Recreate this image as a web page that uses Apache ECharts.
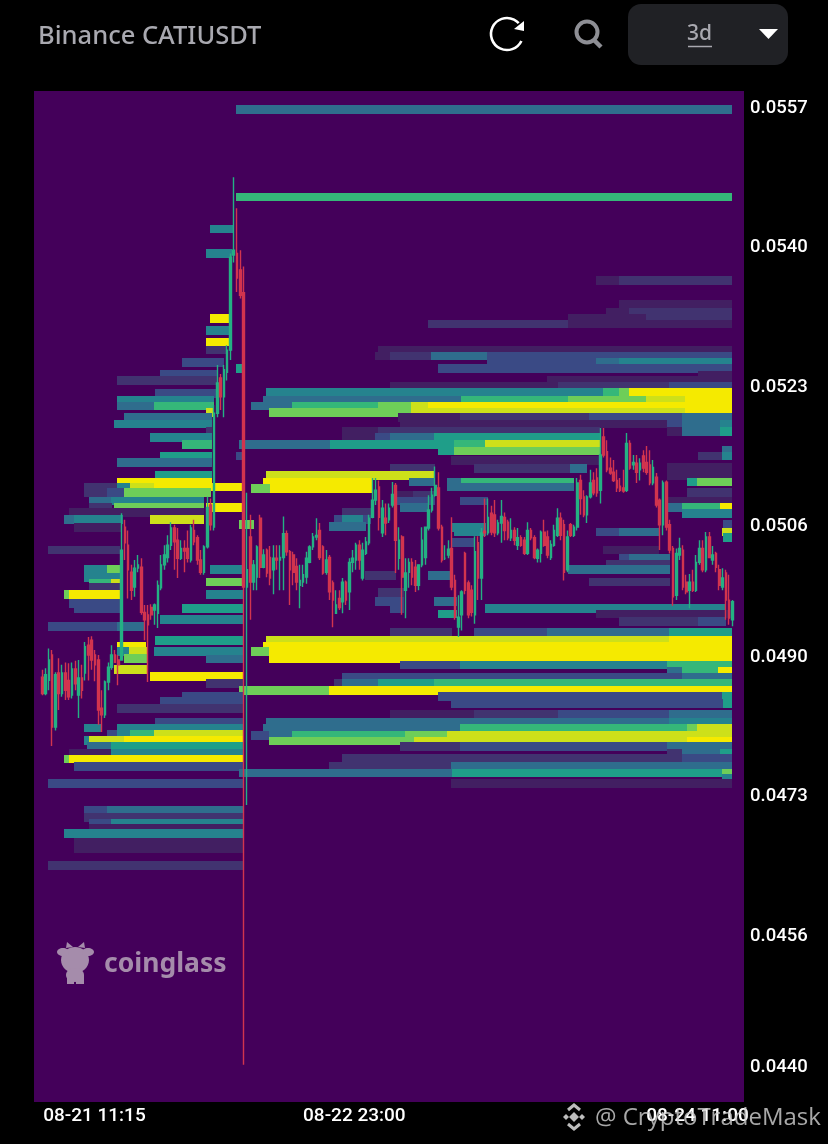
<!DOCTYPE html>
<html>
<head>
<meta charset="utf-8">
<style>html,body{margin:0;padding:0;background:#000}#c{width:828px;height:1144px}</style>
<script src="https://cdn.jsdelivr.net/npm/echarts@6/dist/echarts.min.js"></script>
</head>
<body>
<div id="c"></div>
<script>
// Prices below are USDT x 1e5.
const yTicks = [0.0557,0.0540,0.0523,0.0506,0.0490,0.0473,0.0456,0.0440];
const xTickValues = [15.8,94.5,198.4];
const xTickLabels = ['08-21 11:15','08-22 23:00','08-24 11:00'];
const heatColors = ['#421f62','#413370','#3a4a85','#2f6d8d','#25838e','#1f9e89','#35b779','#6ece58','#cde01a','#f5ea00'];

// each row: open, close, high, low
const ohlc = [
[4876,4856,4885,4854],[4856,4879,4887,4854],[4872,4897,4911,4860],[4903,4815,4909,4792],[4815,4879,4882,4811],
[4881,4856,4899,4836],[4856,4881,4891,4852],[4881,4860,4894,4848],[4872,4852,4893,4848],[4854,4886,4894,4850],
[4886,4868,4896,4860],[4854,4875,4897,4826],[4875,4860,4891,4850],[4881,4913,4919,4872],[4915,4903,4925,4872],
[4921,4897,4926,4885],[4903,4891,4909,4871],[4897,4836,4903,4818],[4838,4830,4860,4809],[4830,4870,4872,4826],
[4870,4888,4894,4860],[4888,4903,4915,4885],[4903,4894,4909,4894],[4897,4891,4903,4866],[4897,5031,5076,4897],
[5059,5040,5068,5019],[5037,5007,5055,4972],[5004,4982,5013,4970],[4986,5009,5019,4974],[5009,5013,5025,5004],
[5010,4955,5021,4952],[4955,4946,4964,4921],[4952,4940,4964,4870],[4961,4952,4965,4946],[4958,4964,4966,4940],
[4954,4988,4994,4936],[4985,5013,5025,4982],[5013,5025,5037,5007],[5022,5037,5049,5016],[5037,5058,5065,5031],
[5058,5041,5062,5007],[5043,5021,5058,4997],[5021,5033,5043,5019],[5033,5030,5043,5004],[5033,5021,5055,5016],
[5019,5058,5062,5016],[5055,5041,5068,5037],[5046,5019,5049,5013],[5019,5004,5031,5001],[5004,5035,5037,5001],
[5035,5083,5096,5033],[5086,5062,5094,5055],[5059,5198,5208,5055],[5198,5235,5257,5193],[5241,5218,5246,5202],
[5218,5251,5257,5193],[5248,5275,5281,5238],[5275,5388,5393,5263],[5391,5397,5486,5382],[5393,5363,5448,5346],
[5373,5342,5397,5338],[5345,4986,5377,4403],[4986,5007,5101,4720],[5047,4992,5074,4946],[4992,5013,5019,4982],
[4998,5035,5037,4982],[5070,5010,5074,4997],[5010,5025,5032,5009],[5031,5003,5033,4998],[5022,4997,5036,4988],
[5007,5021,5037,4977],[5021,5019,5037,5007],[5019,5022,5037,4982],[5022,5051,5072,4982],[5051,5029,5055,5024],
[5029,5007,5031,4964],[5025,5004,5029,4988],[5011,4992,5021,4982],[4988,4994,5013,4960],[4992,5001,5013,4986],
[4998,5021,5029,4990],[5016,5035,5037,5015],[5035,5047,5052,5031],[5047,5049,5070,5043],[5055,5022,5064,5019],
[5035,5003,5037,5001],[5004,5019,5031,5001],[5022,4980,5025,4970],[4991,4970,4994,4937],[4954,4964,4982,4953],
[4972,4961,4982,4958],[4968,4992,4997,4954],[4992,4970,4994,4964],[4980,5016,5021,4958],[5016,5021,5031,5004],
[5019,5037,5040,5007],[5037,5019,5043,5007],[4997,5031,5040,4994],[5027,5041,5047,5025],[5040,5070,5074,5037],
[5071,5092,5119,5070],[5092,5104,5119,5086],[5108,5071,5116,5055],[5052,5082,5092,5047],[5070,5064,5088,5049],
[5068,5082,5088,5064],[5086,5099,5114,5083],[5110,5043,5113,5003],[5021,5043,5059,5007],[5047,4998,5049,4952],
[4982,5003,5021,4948],[5004,5016,5021,4985],[5016,4998,5021,4988],[5010,4988,5019,4980],[4988,5013,5013,4982],
[5013,5043,5059,5010],[5022,5059,5059,5013],[5058,5080,5098,5055],[5080,5098,5107,5077],[5098,5110,5133,5096],
[5107,5058,5126,5055],[5059,5019,5062,5016],[5021,5021,5037,5019],[5025,5032,5043,5021],[5033,4986,5071,4982],
[4994,4949,5001,4946],[4937,4949,4976,4925],[4952,4980,4982,4933],[5027,4982,5029,4977],[4991,4952,4994,4948],
[4982,4955,4988,4950],[4952,5029,5048,4941],[5040,4997,5048,4970],[4997,5052,5058,4970],[5054,5052,5094,5047],
[5052,5071,5094,5049],[5076,5053,5085,5049],[5074,5052,5092,5047],[5052,5064,5068,5049],[5064,5072,5092,5040],
[5071,5055,5077,5043],[5065,5046,5068,5043],[5046,5055,5070,5042],[5055,5043,5059,5037],[5037,5046,5058,5031],
[5046,5037,5049,5035],[5043,5027,5047,5025],[5027,5055,5065,5025],[5055,5046,5058,5043],[5046,5022,5049,5020],
[5021,5031,5033,5016],[5027,5053,5055,5016],[5053,5037,5068,5035],[5047,5025,5055,5021],[5022,5038,5043,5019],
[5037,5055,5062,5035],[5049,5070,5082,5047],[5070,5049,5077,5043],[5062,5004,5068,4994],[5007,5047,5055,5004],
[5062,5049,5064,5047],[5049,5059,5062,5047],[5059,5113,5119,5055],[5116,5094,5123,5074],[5096,5074,5104,5071],
[5074,5096,5098,5064],[5096,5113,5129,5094],[5116,5101,5126,5098],[5119,5101,5131,5096],[5104,5147,5180,5088],
[5169,5147,5180,5144],[5151,5129,5165,5126],[5131,5125,5144,5123],[5126,5116,5141,5114],[5116,5107,5129,5102],
[5109,5104,5119,5102],[5107,5103,5129,5101],[5104,5161,5174,5102],[5161,5131,5165,5129],[5135,5138,5147,5129],
[5137,5126,5147,5113],[5129,5137,5143,5116],[5146,5131,5153,5126],[5138,5126,5158,5123],[5135,5113,5153,5110],
[5113,5132,5141,5110],[5120,5086,5125,5083],[5092,5062,5094,5031],[5062,5113,5116,5049],[5114,5059,5116,5055],
[5062,5031,5068,5027],[5033,4974,5036,4963],[4976,5027,5033,4970],[5025,5033,5046,5019],[5031,4986,5037,4982],
[4992,4980,5001,4977],[4982,4992,5002,4960],[4992,4982,5007,4980],[4982,5016,5025,4980],[5016,5033,5043,5013],
[5033,5007,5043,5004],[5007,5047,5053,5004],[5047,5022,5053,5021],[5019,5025,5036,5013],[5027,5010,5029,5004],
[5007,4988,5013,4982],[4986,4997,5009,4982],[5003,4970,5007,4946],[4970,4948,5001,4940],[4946,4968,4970,4938]
];

// each row: from candle, to candle, price, liquidity level (1-10)
const liquidity = [
[59,209,5569,4],[59,209,5462,7],[51,58,5423,5],[50,57.5,5393,5],[168,175,5360,1],[175,209,5360,2],
[175,209,5331,1],[171,178,5321,1],[178,209,5321,2],[51,57,5314,10],[159.4,183,5314,1],[183,209,5314,2],
[117,159.4,5307,2],[159.4,209,5307,1],[50,57,5299,5],[50,57,5285,10],[50,56,5275,2],[102,209,5275,1],
[101,105.5,5268,1],[105.5,118,5268,2],[118,135,5268,4],[135,209,5268,3],[42.5,55,5260,3],[135,168,5260,3],
[168,175,5260,4],[175,209,5260,5],[59,61,5253,6],[120,209,5253,3],[36,53,5246,3],[198.8,209,5244,1],
[23,53,5238,2],[153,209,5238,1],[105.5,156.4,5231,1],[156.4,190,5231,2],[190,209,5231,3],[34.5,53,5222,3],
[68,170,5223,5],[170,175,5223,7],[175,178,5223,8],[178,209,5223,10],[23,52,5214,5],[67,127,5214,4],
[127,159.4,5214,7],[159.4,183,5214,8],[183,195,5214,9],[195,209,5214,10],[23,34,5207,4],[34,52,5207,7],
[63.6,76,5207,4],[76,102,5207,7],[102,112,5207,8],[112,117,5207,9],[117,209,5207,10],[50,52,5199,9],
[69,112,5199,8],[112,195,5199,9],[195,209,5199,10],[25,51.5,5193,4],[108,126.7,5193,1],[126.7,166,5193,2],
[166,194,5193,3],[194,209,5193,4],[22,51.5,5185,5],[108.5,189.4,5185,1],[189.4,194,5185,3],[194,205.5,5185,4],
[205.5,209,5185,5],[50,51.5,5176,2],[91,102,5176,1],[102,169,5176,2],[189.4,194,5176,1],[194,205.5,5176,4],
[205.5,209,5176,6],[33,51.5,5168,5],[91,101,5168,1],[101,105.5,5168,3],[105.5,119,5168,4],[119,169,5168,6],
[42.5,51.5,5160,7],[60,87.5,5160,4],[87.5,125,5160,6],[125,134.5,5160,7],[134.5,169,5160,9],[120,125,5152,6],
[125,169,5152,8],[206,209,5153,4],[36,51.5,5146,6],[59,61,5146,3],[198.8,206,5146,2],[206,209,5146,5],
[124,169,5140,1],[23,51.5,5138,4],[189.4,209,5132,1],[105.5,119,5131,2],[131,160,5131,2],[160,165,5131,4],
[68,119,5122,9],[189.4,209,5122,1],[34.5,51.5,5122,6],[23,51.5,5114,10],[67,100,5114,10],[111.5,119,5114,4],
[123,127,5114,4],[127,161,5114,7],[195.5,198.5,5114,6],[198.5,209,5114,8],[13,23,5108,2],[23,27,5108,5],
[27,34,5108,9],[34,61,5108,10],[123,161,5108,4],[69,100,5106,10],[63.6,69,5106,8],[13,20,5101,2],[20,25,5101,3],
[25,51,5101,8],[195.5,209,5101,2],[107.5,112.5,5098,1],[112.5,119,5098,2],[14.5,21,5091,4],[21,49,5091,5],
[107.5,119,5091,3],[126.7,135,5091,3],[189.4,209,5091,1],[14.5,21,5083,2],[22,49,5083,8],[50,61,5083,10],
[108.5,117,5083,4],[189.4,194,5083,4],[194,205.5,5083,7],[205.5,209,5083,10],[8.5,49,5077,1],[91,99.5,5077,2],
[194,209,5076,5],[7,10,5068,4],[10,24.5,5068,5],[33,49,5068,9],[88.5,91,5068,3],[91,97.5,5068,5],[97.5,99.5,5068,3],
[206.4,209,5062,3],[60,64,5062,8],[87,98,5060,4],[10,24,5059,1],[124.5,134.5,5059,5],[125,134.5,5053,5],
[168,175,5053,3],[175,186.7,5053,4],[206,209,5053,9],[206.4,209,5046,6],[124.5,131,5040,3],[2,23.5,5031,2],
[170,186.7,5031,1],[175,178,5021,3],[178,190,5021,4],[171,190,5014,2],[13,20,5007,5],[20,24,5007,8],[51,61,5007,5],
[159.4,190,5007,4],[98,107,5000,2],[117,124,5000,4],[13,23.5,4998,5],[50,61,4992,8],[166,190,4992,2],
[14.5,21,4991,7],[21,23.5,4991,9],[14.5,23.5,4985,2],[102,109.5,4979,2],[7,8.5,4977,8],[8.5,23.5,4977,10],
[50,61,4977,5],[101,109.5,4968,3],[119,125.5,4968,4],[8.5,23.5,4966,3],[10,23.5,4960,3],[42.5,61,4960,6],
[105.5,109.5,4960,3],[134.5,207,4960,5],[120,125.5,4953,6],[168,209,4953,1],[36,61,4946,5],[175,198.8,4944,2],
[198.8,207,4944,3],[2,23,4938,3],[23,31,4938,4],[105.5,124,4931,2],[131,153,4931,3],[153,190,4931,4],[190,209,4931,6],
[34.5,61,4921,6],[68,190,4921,9],[190,209,4921,10],[23,31.5,4913,10],[67,209,4913,10],[23,26.7,4907,5],
[26.7,32,4907,9],[34,61,4907,5],[63.6,69,4907,8],[69,209,4907,10],[69,209,4899,10],[25,32,4899,8],[50,61,4898,4],
[108.5,126.7,4891,3],[126.7,189.4,4891,5],[189.4,209,4891,7],[22,32,4885,9],[189.4,194,4883,4],[194,205,4883,7],
[205,209,4883,10],[33,61,4877,10],[91,194,4876,3],[194,209,4876,4],[88.5,91,4869,2],[91,102,4869,4],[102,119,4869,6],
[119,209,4869,7],[50,61,4868,2],[60,87,4860,8],[87,209,4860,10],[42.5,61,4853,3],[120,206,4852,3],[206,209,4852,6],
[36,61,4846,3],[124,206.4,4844,3],[206.4,209,4844,6],[23,61,4838,2],[105.5,131,4831,1],[131,156.4,4831,2],
[156.4,190,4831,3],[190,209,4831,4],[34.5,61,4821,3],[68,190,4821,4],[190,209,4821,5],[13,18,4814,5],[23,61,4814,5],
[67,126.7,4813,4],[126.7,195.5,4813,7],[195.5,198.5,4813,8],[198.5,209,4813,9],[20,23,4806,3],[23,27,4806,5],
[27,34,4806,7],[34,61,4806,9],[63.6,69,4805,3],[69,76,4805,4],[76,110,4805,7],[110,123,4805,8],[123,209,4805,9],
[13,14.5,4799,5],[14.5,25,4799,9],[25,61,4799,10],[69,113,4798,8],[113,195.5,4798,9],[195.5,209,4798,10],
[14,21,4791,4],[21,61,4791,6],[108.5,126.7,4791,2],[126.7,189.4,4791,3],[189.4,209,4791,4],[8.5,21,4783,1],
[21,61,4783,5],[189.4,194,4783,2],[194,205.5,4783,4],[205.5,209,4783,6],[91,194,4777,2],[194,209,4777,3],
[7,8.5,4776,8],[8.5,61,4776,10],[10,61,4767,3],[87,124,4767,2],[124,209,4767,4],[60,124.5,4759,4],[124.5,206,4759,6],
[206,209,4759,8],[206,209,4752,5],[2,61,4746,3],[124,209,4746,1],[13,20,4714,3],[20,61,4714,4],[13,61,4705,2],
[14.5,21,4698,3],[21,61,4698,5],[14.5,61,4692,1],[7,61,4685,5],[10,61,4675,1],[10,61,4667,1],[2,61,4646,2]
];

const PAD_START = 2, PAD_END = 3, ROW = 0.000106;
const toPrice = v => v / 1e5;
const blank = ['-','-','-','-'];
const categories = Array.from({length: ohlc.length + PAD_START + PAD_END}, (_, i) => String(i));
const candleData = [blank, blank].concat(ohlc.map(r => [toPrice(r[0]), toPrice(r[1]), toPrice(r[3]), toPrice(r[2])]), [blank, blank, blank]);
const bandData = liquidity.map(r => [r[0], r[1], toPrice(r[2]), r[3]]);

const chart = echarts.init(document.getElementById('c'), null, {renderer: 'canvas'});
const LABEL_FONT = 'Roboto';
const BULL = '#a58cab';
chart.setOption({
  backgroundColor: '#000000',
  animation: false,
  grid: {left: 34, right: 84, top: 91, bottom: 42, show: true, backgroundColor: '#44005a', borderWidth: 0},
  xAxis: [
    {type: 'category', data: categories, show: false},
    {type: 'value', min: -2.5, max: 212.5, position: 'bottom',
      axisLine: {show: false}, axisTick: {show: false}, splitLine: {show: false},
      axisLabel: {color: '#fff', fontFamily: LABEL_FONT, fontSize: 19, fontWeight: 500, margin: 5, hideOverlap: false,
        showMinLabel: true, showMaxLabel: true,
        customValues: xTickValues,
        formatter: v => xTickLabels[xTickValues.indexOf(v)] || ''}}
  ],
  yAxis: {type: 'value', position: 'right', min: 0.043576, max: 0.055912, scale: true,
    axisLine: {show: false}, axisTick: {show: false}, splitLine: {show: false},
    axisLabel: {color: '#fff', fontFamily: LABEL_FONT, fontSize: 18.5, fontWeight: 500, margin: 6, padding: [6, 0, 0, 0],
      customValues: yTicks, formatter: v => v.toFixed(4)}},
  series: [
    {type: 'custom', xAxisIndex: 1, yAxisIndex: 0, z: 1, clip: true, silent: true,
      encode: {x: [0, 1], y: 2},
      data: bandData,
      renderItem: (params, api) => {
        const p0 = api.coord([api.value(0), api.value(2) + ROW / 2]);
        const p1 = api.coord([api.value(1), api.value(2) - ROW / 2]);
        return {type: 'rect',
          shape: {x: Math.round(p0[0]) - 1, y: Math.round(p0[1]), width: Math.round(p1[0]) - Math.round(p0[0]) + 1, height: Math.round(p1[1]) - Math.round(p0[1])},
          style: {fill: heatColors[api.value(3) - 1]}};
      }},
    {type: 'candlestick', xAxisIndex: 0, yAxisIndex: 0, z: 3, silent: true, barWidth: 2.1,
      data: candleData,
      itemStyle: {color: '#24b183', color0: '#d2344e', borderColor: '#24b183', borderColor0: '#d2344e', borderWidth: 1.4}}
  ],
  graphic: [
    {type: 'text', left: 38, top: 24, style: {text: 'Binance CATIUSDT', fill: '#a9a9b0', font: '500 25.5px "Noto Sans"'}},
    {type: 'arc', shape: {cx: 507, cy: 34, r: 16, startAngle: 0.45, endAngle: -0.75, clockwise: true}, style: {stroke: '#fff', fill: null, lineWidth: 2.6}},
    {type: 'polygon', shape: {points: [[524,21],[524,31],[514,29]]}, style: {fill: '#fff'}},
    {type: 'circle', shape: {cx: 587, cy: 32, r: 10.5}, style: {stroke: '#8e8f95', fill: null, lineWidth: 4}},
    {type: 'line', shape: {x1: 594, y1: 40, x2: 601, y2: 47}, style: {stroke: '#8e8f95', lineWidth: 4.5}},
    {type: 'rect', shape: {x: 628, y: 4, width: 160, height: 61, r: 13}, style: {fill: '#202125'}},
    {type: 'text', left: 687, top: 24, style: {text: '3d', fill: '#a9a9b0', font: '500 21px "Noto Sans"'}},
    {type: 'line', shape: {x1: 688, y1: 46.5, x2: 712, y2: 46.5}, style: {stroke: '#a9a9b0', lineWidth: 1.5}},
    {type: 'polygon', shape: {points: [[759,29],[778,29],[768.5,39]]}, style: {fill: '#fff'}},
    // coinglass mark
    {type: 'group', silent: true, children: [
      {type: 'ellipse', shape: {cx: 75, cy: 960, rx: 14, ry: 13}, style: {fill: BULL}},
      {type: 'ellipse', shape: {cx: 63, cy: 952, rx: 6, ry: 4}, style: {fill: BULL}},
      {type: 'ellipse', shape: {cx: 88, cy: 952, rx: 6, ry: 4}, style: {fill: BULL}},
      {type: 'polygon', shape: {points: [[66,948],[67,942],[73,947]]}, style: {fill: BULL}},
      {type: 'polygon', shape: {points: [[85,948],[84,942],[78,947]]}, style: {fill: BULL}},
      {type: 'ellipse', shape: {cx: 75, cy: 975, rx: 9, ry: 7}, style: {fill: BULL}},
      {type: 'rect', shape: {x: 67, y: 975, width: 7, height: 9}, style: {fill: BULL}},
      {type: 'rect', shape: {x: 76, y: 975, width: 8, height: 9}, style: {fill: BULL}}
    ]},
    {type: 'text', left: 104, top: 951, style: {text: 'coinglass', fill: BULL, font: '700 26.5px "Noto Sans"'}},
    // watermark
    {type: 'polygon', shape: {points: [[574,1112],[579,1117],[574,1122],[569,1117]]}, style: {fill: '#bdbdbd'}},
    {type: 'polygon', shape: {points: [[566,1114],[569,1117],[566,1120],[563,1117]]}, style: {fill: '#bdbdbd'}},
    {type: 'polygon', shape: {points: [[582,1114],[585,1117],[582,1120],[579,1117]]}, style: {fill: '#bdbdbd'}},
    {type: 'polyline', shape: {points: [[568,1110],[574,1105],[580,1110]]}, style: {stroke: '#bdbdbd', fill: null, lineWidth: 3}},
    {type: 'polyline', shape: {points: [[568,1124],[574,1129],[580,1124]]}, style: {stroke: '#bdbdbd', fill: null, lineWidth: 3}},
    {type: 'text', left: 595, top: 1106, z: 10, style: {text: '@ CryptoTradeMask', fill: 'rgba(205,205,205,0.82)', font: '400 24px "Open Sans"'}}
  ]
});
</script>
</body>
</html>
